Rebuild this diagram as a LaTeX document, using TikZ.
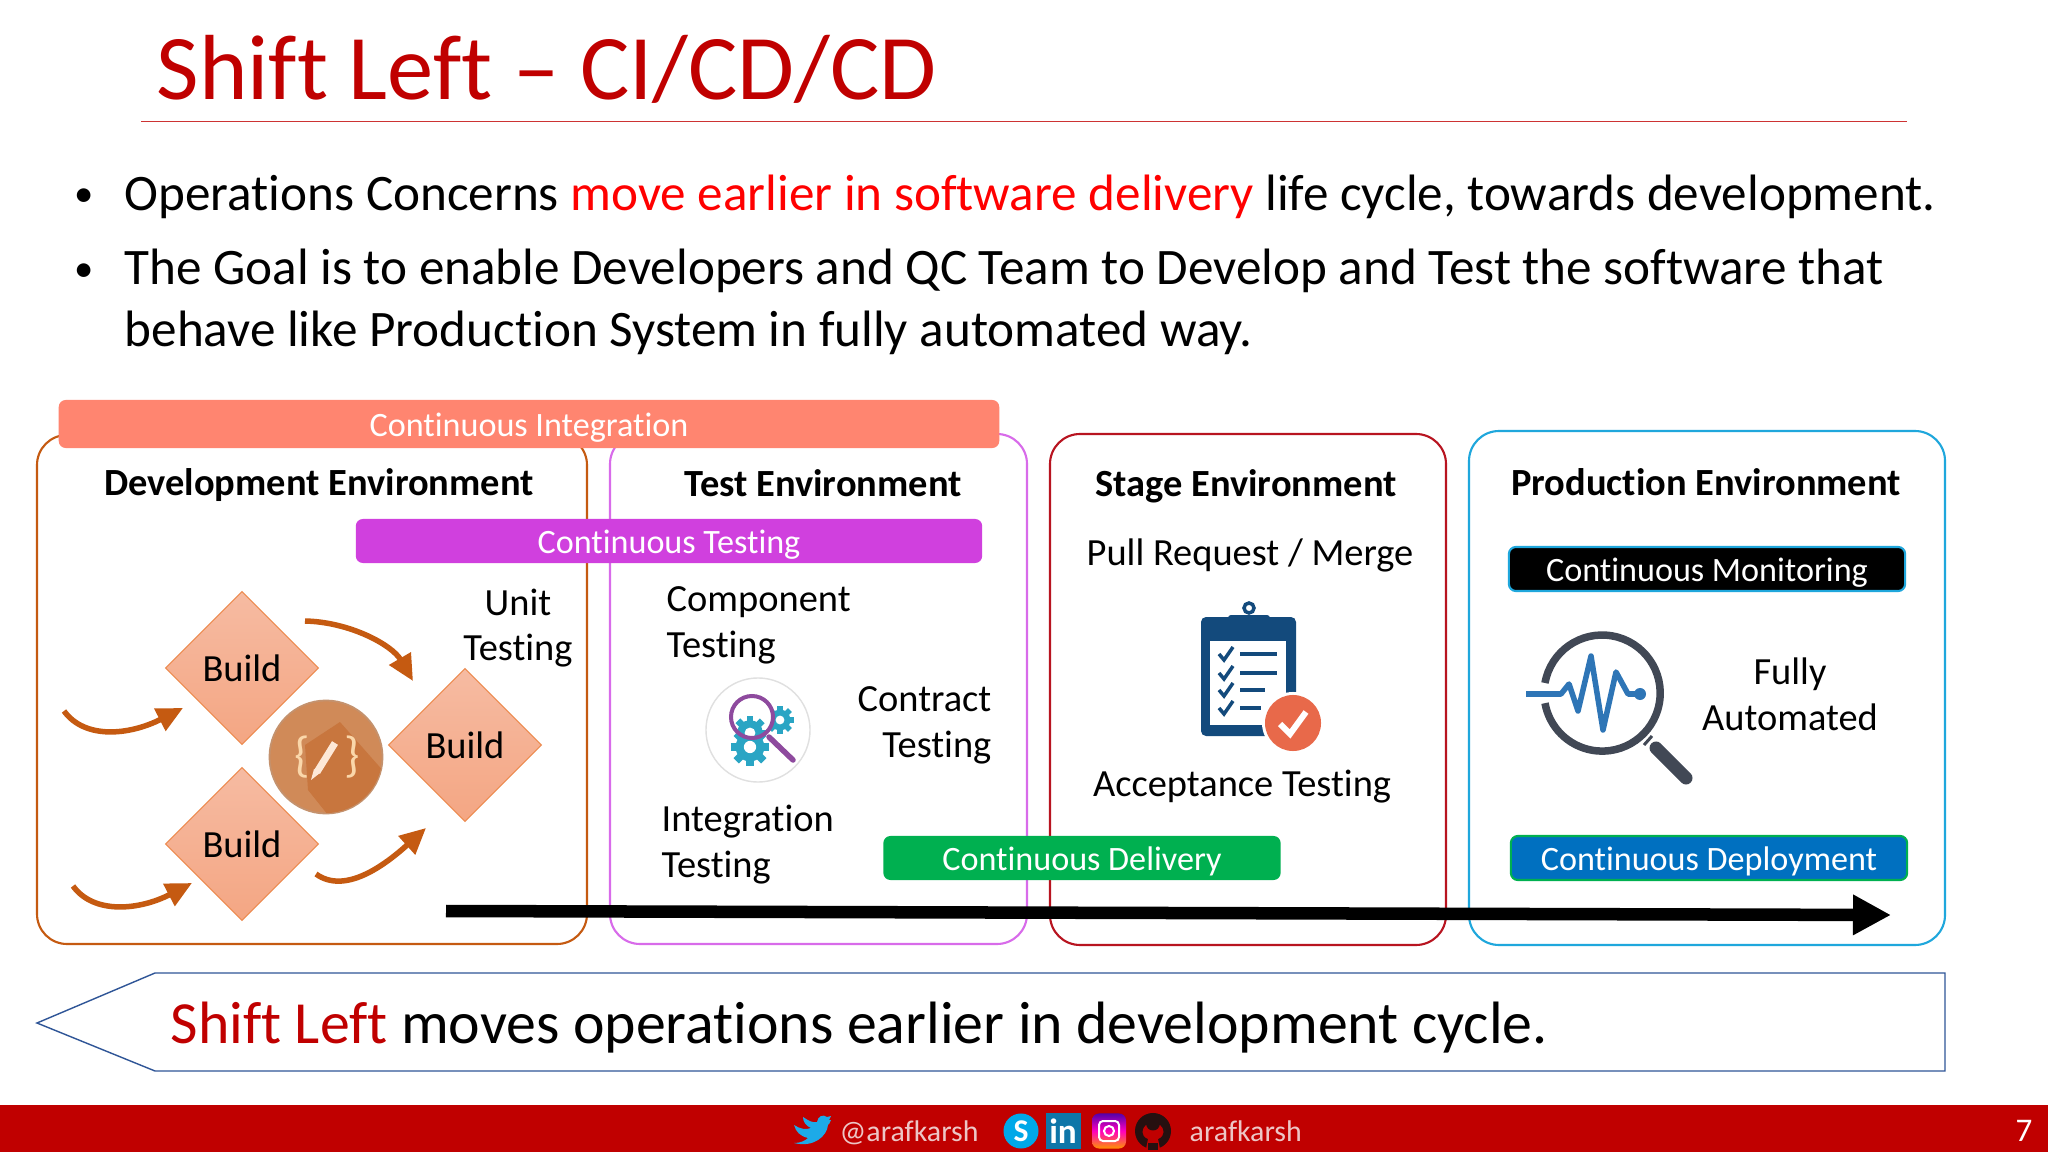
\documentclass[tikz,border=0pt]{standalone}
\usepackage{fontspec}
\setmainfont{Carlito}[Ligatures=NoCommon]
\usetikzlibrary{arrows.meta,shapes.geometric}

\definecolor{slidered}{HTML}{C00000}
\definecolor{footertext}{HTML}{EDC6C6}
\definecolor{devline}{HTML}{C55A11}
\definecolor{testline}{HTML}{D86BEA}
\definecolor{stageline}{HTML}{B81420}
\definecolor{prodline}{HTML}{1FA7DC}
\definecolor{cibar}{HTML}{FF8570}
\definecolor{ctbar}{HTML}{D040DE}
\definecolor{cdelbar}{HTML}{00B050}
\definecolor{cdepbar}{HTML}{0070C0}
\definecolor{buildedge}{HTML}{ED8B50}
\definecolor{buildtop}{HTML}{F6BBA2}
\definecolor{buildlow}{HTML}{F4A683}
\definecolor{codefill}{HTML}{D08A58}
\definecolor{codeedge}{HTML}{C4926E}
\definecolor{codeshade}{HTML}{C8763E}
\definecolor{codeink}{HTML}{FAD7AA}
\definecolor{pencil}{HTML}{FDE8D7}
\definecolor{iconnavy}{HTML}{134A7C}
\definecolor{icongrey}{HTML}{414855}
\definecolor{iconblue}{HTML}{2E75B6}
\definecolor{iconteal}{HTML}{2AA5C4}
\definecolor{iconpurple}{HTML}{8E4A9E}
\definecolor{iconred}{HTML}{E8694A}
\definecolor{bannerline}{HTML}{2F5597}
\definecolor{twitterblue}{HTML}{1DAAE8}
\definecolor{skypeblue}{HTML}{00A8E8}
\definecolor{linkedinblue}{HTML}{0E76A8}
\definecolor{githubink}{HTML}{261010}

\newcommand{\bodysize}{\fontsize{14.55}{14.55}\selectfont}
\newcommand{\labelsize}{\fontsize{10.93}{13.1}\selectfont}
\newcommand{\barsize}{\fontsize{9.71}{12}\selectfont}
\newcommand{\footsize}{\fontsize{8.5}{10}\selectfont}

\newcommand{\gearicon}[3]{% centre, radius in cm, colour
  \foreach \a in {0,45,...,315} {
    \draw[#3,line width=#2*.42cm] (#1) ++(\a:#2*.72cm) -- ++(\a:#2*.36cm);
  }
  \fill[#3] (#1) circle (#2*.8cm);
  \fill[white] (#1) circle (#2*.34cm);
}

\begin{document}
\begin{tikzpicture}[x=.01cm,y=-.01cm,
      env/.style={draw=#1,line width=.6pt,rounded corners=.3cm},
      bar/.style={rounded corners=.07cm,inner sep=0pt,text=white,font=\barsize,text height=8.3pt,text depth=1.2pt,minimum height=.44cm},
      build/.style={diamond,aspect=1,draw=buildedge,line width=.3pt,top color=buildtop,bottom color=buildlow,inner sep=0pt,minimum width=1.53cm,minimum height=1.53cm,font=\labelsize},
      head/.style={anchor=base,inner sep=0pt,font=\labelsize\bfseries},
      txt/.style={anchor=base,inner sep=0pt,font=\labelsize},
      flow/.style={-{Triangle[length=.26cm,width=.24cm]},draw=devline,line width=.055cm}
      ]
      \useasboundingbox (0,0) rectangle (2048,1152);
      \fill[white] (0,0) rectangle (2048,1152);

      % title and bullets
      \node[anchor=base west,inner sep=0pt,text=slidered,font=\fontsize{26.3}{30}\selectfont] (title) at (156,100) {Shift Left – CI/CD/CD};
      \draw[slidered!80,line width=.25pt] (141,121) -- (1907,121);
      \node[anchor=base,inner sep=0pt,font=\fontsize{11}{11}\selectfont] (dota) at (84,207) {•};
      \node[anchor=base,inner sep=0pt,font=\fontsize{11}{11}\selectfont] (dotb) at (84,282) {•};
      \node[anchor=base west,inner sep=0pt,font=\bodysize] (linea) at (124,211) {Operations Concerns \textcolor{red}{move earlier in software delivery} life cycle, towards development.};
      \node[anchor=base west,inner sep=0pt,font=\bodysize] (lineb) at (124,285) {The Goal is to enable Developers and QC Team to Develop and Test the software that};
      \node[anchor=base west,inner sep=0pt,font=\bodysize] (linec) at (124,347) {behave like Production System in fully automated way.};

      % environments
      \draw[env=devline] (37,435) rectangle (587,944);
      \draw[env=testline] (610,434) rectangle (1027,944);
      \draw[env=stageline] (1050,434) rectangle (1446,945);
      \draw[env=prodline] (1469,431) rectangle (1945,945);

      % continuous bars
      \node[bar,fill=cibar,minimum width=9.4cm,minimum height=.48cm] (ci) at (529,424) {Continuous Integration};
      \node[bar,fill=ctbar,minimum width=6.26cm] (ct) at (669,541) {Continuous Testing};
      \node[bar,fill=cdelbar,minimum width=3.97cm] (cdel) at (1082,858) {Continuous Delivery};
      \node[bar,fill=black,draw=prodline,line width=.6pt,minimum width=3.96cm] (cmon) at (1707,569) {Continuous Monitoring};
      \node[bar,fill=cdepbar,draw=cdelbar,line width=.6pt,minimum width=3.96cm] (cdep) at (1709,858) {Continuous Deployment};

      % headings
      \node[head] (devhead) at (319,496) {Development Environment};
      \node[head] (testhead) at (823,497) {Test Environment};
      \node[head] (stagehead) at (1246,497) {Stage Environment};
      \node[head] (prodhead) at (1706,496) {Production Environment};

      % builds
      \node[build] (builda) at (242,668) {Build};
      \node[build] (buildb) at (242,844) {Build};
      \node[build] (buildc) at (465,745) {Build};
      \coordinate (ina) at (64,711);
      \coordinate (inb) at (73,886);
      \coordinate (outa) at (305,621);
      \coordinate (outb) at (316,874);
      \coordinate (tipa) at (183,708);
      \coordinate (tipb) at (192,883);
      \coordinate (tipc) at (413,681);
      \coordinate (tipd) at (426,828);
      \draw[flow] (ina) .. controls (85,740) and (130,735) .. (tipa);
      \draw[flow] (inb) .. controls (94,915) and (140,910) .. (tipb);
      \draw[flow] (outa) .. controls (350,622) and (392,645) .. (tipc);
      \draw[flow] (outb) .. controls (345,895) and (385,865) .. (tipd);

      % code icon
      \node[circle,fill=codefill,draw=codeedge,line width=.5pt,inner sep=0pt,minimum size=1.13cm] (code) at (326,757) {};
      \begin{scope}
        \clip (326,757) circle (.56cm);
        \fill[codeshade] (305,745) -- (340,722) -- (400,790) -- (340,830) -- (308,790) -- cycle;
      \end{scope}
      \node[text=codeink,font=\fontsize{14}{14}\selectfont] (bra) at (302,757) {\{};
      \node[text=codeink,font=\fontsize{14}{14}\selectfont] (ket) at (352,757) {\}};
      \draw[pencil,line width=.07cm] (317,772) -- (335,743);
      \fill[pencil] (311,780) -- (314,769) -- (320,773) -- cycle;

      % test texts
      \node[txt] (unit) at (518,615) {Unit};
      \node[txt] (unitb) at (518,660) {Testing};
      \node[txt,anchor=base west] (comp) at (666,611) {Component};
      \node[txt,anchor=base west] (compb) at (666,657) {Testing};
      \node[txt,anchor=base east] (contr) at (992,711) {Contract};
      \node[txt,anchor=base east] (contrb) at (992,757) {Testing};
      \node[txt,anchor=base west] (integ) at (661,831) {Integration};
      \node[txt,anchor=base west] (integb) at (661,877) {Testing};
      \node[txt] (pull) at (1250,565) {Pull Request / Merge};
      \node[txt] (accept) at (1242,796) {Acceptance Testing};
      \node[txt] (fully) at (1790,684) {Fully};
      \node[txt] (auto) at (1790,730) {Automated};

      % gears and lens
      \draw[black!12,line width=.4pt,fill=white] (758,730) circle (.52cm);
      \gearicon{780,720}{.13}{iconteal}
      \gearicon{750,747}{.18}{iconteal}
      \fill[white] (752,717) circle (.2cm);
      \begin{scope}
        \clip (752,717) circle (.2cm);
        \gearicon{750,733}{.16}{iconteal}
      \end{scope}
      \draw[iconpurple,line width=.04cm] (752,717) circle (.21cm);
      \draw[iconpurple,line width=.055cm,line cap=round] (769,737) -- (793,760);

      % clipboard
      \fill[iconnavy,rounded corners=.05cm] (1201,617) rectangle (1296,736);
      \fill[white] (1210,641) rectangle (1286,725);
      \fill[iconnavy,rounded corners=.03cm] (1228,615) rectangle (1270,629);
      \draw[iconnavy,line width=.035cm] (1249,608) circle (.05cm);
      \foreach \y/\e in {654/1277,673/1277,690/1265,708/1261} {
        \draw[iconnavy,line width=.035cm] (1219,\y) -- (1224,\y+6) -- (1233,\y-7);
        \draw[iconnavy,line width=.045cm] (1240,\y) -- (\e,\y);
      }
      \fill[white] (1293,723) circle (.31cm);
      \fill[iconred] (1293,723) circle (.28cm);
      \draw[white,line width=.06cm] (1280,724) -- (1290,734) -- (1306,712);

      % monitoring lens
      \draw[icongrey,line width=.075cm] (1545,683) arc[start angle=170,end angle=-170,radius=.58cm];
      \draw[icongrey,line width=.13cm,line cap=round] (1656,748) -- (1686,778);
      \draw[icongrey,line width=.03cm] (1644,745) -- (1652,736);
      \draw[iconblue,line width=.055cm,line join=round] (1526,694) -- (1561,694) -- (1569,684) -- (1578,711) -- (1591,656) -- (1603,730) -- (1616,672) -- (1628,694) -- (1640,694);
      \fill[iconblue] (1640,694) circle (.06cm);

      % shift arrows
      \coordinate (deliverfrom) at (446,911);
      \coordinate (deliverto) at (1891,915);
      \draw[-{Triangle[length=.38cm,width=.38cm]},line width=.125cm] (deliverfrom) -- (deliverto);
      \draw[line width=.4pt,draw=bannerline,fill=white] (37,1023) -- (155,973) -- (1945,973) -- (1945,1071) -- (155,1071) -- cycle;
      \node[anchor=base west,inner sep=0pt,font=\fontsize{17}{20}\selectfont] (shift) at (170,1043) {\textcolor{slidered}{Shift Left} moves operations earlier in development cycle.};

      % footer
      \fill[slidered] (0,1105) rectangle (2048,1152);
      \node[anchor=base west,inner sep=0pt,text=footertext,font=\footsize] (twname) at (839,1141) {@arafkarsh};
      \node[anchor=base west,inner sep=0pt,text=footertext,font=\footsize] (ghname) at (1189,1141) {arafkarsh};
      \node[anchor=base,inner sep=0pt,text=white,font=\fontsize{9.4}{10}\selectfont] (page) at (2024,1141) {7};
      \fill[twitterblue] (794,1125) .. controls (800,1129) and (806,1130) .. (811,1128) .. controls (806,1126) and (803,1122) .. (803,1117) .. controls (809,1121) and (813,1123) .. (817,1122) .. controls (818,1116) and (823,1114) .. (827,1117) -- (831,1116) -- (829,1120) -- (831,1120) .. controls (830,1123) and (829,1124) .. (828,1125) .. controls (827,1136) and (814,1148) .. (794,1143) .. controls (800,1143) and (805,1141) .. (808,1138) .. controls (800,1136) and (796,1132) .. (794,1125) -- cycle;
      \node[circle,fill=skypeblue,inner sep=0pt,minimum size=.35cm,text=white,font=\fontsize{9}{9}\selectfont\bfseries] (skype) at (1021,1131) {S};
      \node[fill=linkedinblue,inner sep=0pt,minimum width=.35cm,minimum height=.35cm,text=white,font=\fontsize{10}{10}\selectfont\bfseries] (linkedin) at (1063,1131) {in};
      \node[rounded corners=.07cm,bottom color=orange!85!yellow,top color=blue!55!purple,middle color=magenta!75!red,inner sep=0pt,minimum width=.34cm,minimum height=.35cm] (insta) at (1109,1131) {};
      \draw[white,line width=.02cm,rounded corners=.04cm] (1099,1121) rectangle (1119,1141);
      \draw[white,line width=.02cm] (1109,1131) circle (.05cm);
      \node[circle,fill=githubink,inner sep=0pt,minimum size=.36cm] (github) at (1153,1131) {};
      \fill[slidered] (1146,1149) -- (1148,1139) .. controls (1140,1136) and (1142,1128) .. (1146,1125) -- (1160,1125) .. controls (1164,1128) and (1166,1136) .. (1158,1139) -- (1160,1149) -- cycle;
      \fill[githubink] (1148,1143) rectangle (1158,1150);
      \fill[githubink] (1146,1123) .. controls (1146,1133) and (1160,1133) .. (1160,1123) -- cycle;
\end{tikzpicture}
\end{document}
